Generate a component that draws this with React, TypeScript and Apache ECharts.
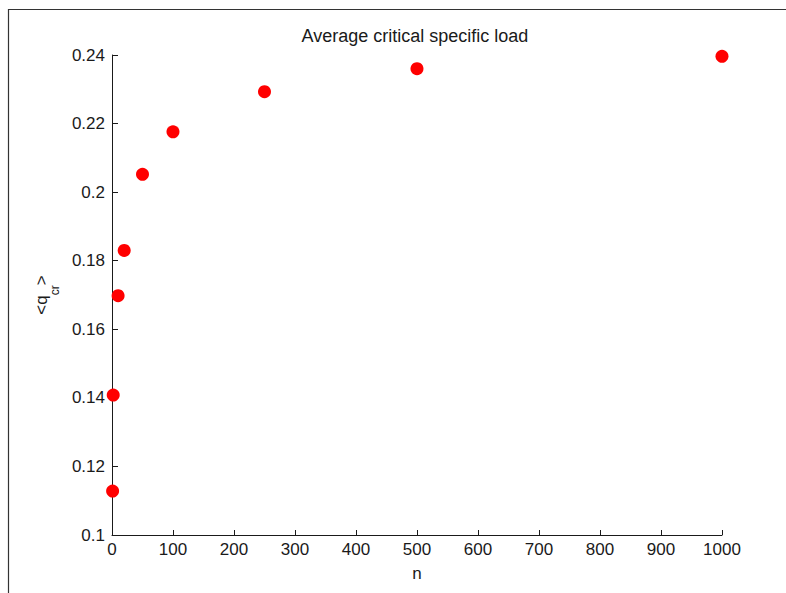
import React, { useEffect, useRef } from "react";
import * as echarts from "echarts";

const nValues = [1, 2, 10, 20, 50, 100, 250, 500, 1000];
const qcrValues = [0.1128, 0.1408, 0.1698, 0.1830, 0.2052, 0.2176, 0.2293, 0.2360, 0.2396];
const titleText = "Average critical specific load";
const xName = "n";

const FONT = "'Liberation Sans', Arial, sans-serif";
const INK = "#1a1a1a";

export default function App() {
  const ref = useRef<HTMLDivElement>(null);
  useEffect(() => {
    if (!ref.current) return;
    const chart = echarts.init(ref.current, undefined, { renderer: "svg" });
    chart.setOption({
      animation: false,
      backgroundColor: "#ffffff",
      title: {
        text: titleText,
        left: 410,
        top: 22,
        textAlign: "center",
        textStyle: { fontFamily: FONT, fontSize: 18, fontWeight: "normal", color: INK },
      },
      graphic: [
        {
          type: "rect",
          shape: { x: 8.5, y: 9.5, width: 900, height: 700 },
          style: { fill: "none", stroke: "#333333", lineWidth: 1.2 },
          silent: true,
          z: -1,
        },
      ],
      grid: { left: 112, right: 64, top: 55, bottom: 58 },
      xAxis: {
        type: "value",
        min: 0,
        max: 1000,
        interval: 100,
        name: xName,
        nameLocation: "middle",
        nameGap: 30,
        nameTextStyle: { fontFamily: FONT, fontSize: 17, color: INK },
        axisLine: { show: true, onZero: false, lineStyle: { color: INK, width: 1 } },
        axisTick: { show: true, inside: true, length: 5, lineStyle: { color: INK } },
        axisLabel: {
          fontFamily: FONT,
          fontSize: 17,
          color: INK,
          margin: 6,
          formatter: (v: number) => String(v),
        },
        splitLine: { show: false },
      },
      yAxis: {
        type: "value",
        min: 0.1,
        max: 0.24,
        interval: 0.02,
        name: "{a|<q}{b|cr}{a|>}",
        nameLocation: "middle",
        nameGap: 50,
        nameRotate: 90,
        nameTextStyle: {
          fontFamily: FONT,
          color: INK,
          rich: {
            a: { fontFamily: FONT, fontSize: 17, color: INK, lineHeight: 28, verticalAlign: "top" },
            b: { fontFamily: FONT, fontSize: 12, color: INK, lineHeight: 12, verticalAlign: "bottom" },
          },
        },
        axisLine: { show: true, onZero: false, lineStyle: { color: INK, width: 1 } },
        axisTick: { show: true, inside: true, length: 6, lineStyle: { color: INK } },
        axisLabel: { fontFamily: FONT, fontSize: 17, color: INK, margin: 7 },
        splitLine: { show: false },
      },
      series: [
        {
          type: "scatter",
          data: nValues.map((n, i) => [n, qcrValues[i]]),
          symbol: "circle",
          symbolSize: 13,
          itemStyle: { color: "#ff0000", opacity: 1 },
          clip: false,
        },
      ],
    });
    return () => chart.dispose();
  }, []);
  return (
    <div
      ref={ref}
      style={{ position: "absolute", left: 0, top: 0, width: 786, height: 593 }}
    />
  );
}
